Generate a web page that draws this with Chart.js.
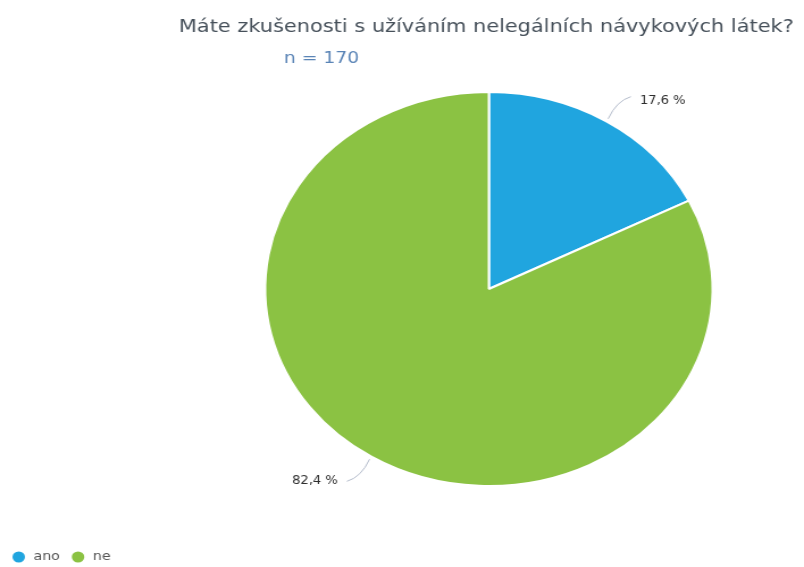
<!DOCTYPE html>
<html>
<head>
<meta charset="utf-8">
<script src="https://cdn.jsdelivr.net/npm/chart.js@4/dist/chart.umd.min.js"></script>
<style>
  html, body { margin: 0; padding: 0; background: #fff; }
  #graf { display: block; }
</style>
</head>
<body>
<!-- canvas is drawn narrower and stretched to the full width -->
<canvas id="graf" width="708" height="567" style="width:804px;height:567px"></canvas>
<script>
const nadpis = "Máte zkušenosti s užíváním nelegálních návykových látek?";
const pocet = "n = 170";
const kategorie = ["ano", "ne"];
const hodnoty = [17.6, 82.4];
const barvy = ["#20a5df", "#8bc243"];

const canvas_graf = document.getElementById("graf");

function formatProcenta(v) {
  return v.toFixed(1).replace(".", ",") + " %";
}

/* popisky, vodici cary, nadpis a legenda */
const popiskyPlugin = {
  id: "popisky",
  afterDraw(chart) {
    const ctx = chart.ctx;
    ctx.save();

    // nadpis a n
    ctx.textBaseline = "alphabetic";
    ctx.textAlign = "left";
    ctx.font = "18.4px 'DejaVu Sans', Verdana, sans-serif";
    ctx.fillStyle = "#46505a";
    ctx.fillText(nadpis, 157.5, 32);
    ctx.font = "16.5px 'DejaVu Sans', Verdana, sans-serif";
    ctx.fillStyle = "#5a84b6";
    ctx.fillText(pocet, 250, 63);

    // vysece
    const meta = chart.getDatasetMeta(0);
    meta.data.forEach((arc, i) => {
      const mid = (arc.startAngle + arc.endAngle) / 2;
      const dx = Math.cos(mid), dy = Math.sin(mid);
      const r = arc.outerRadius + 3;
      const sx = arc.x + dx * r, sy = arc.y + dy * r;
      const smer = dx >= 0 ? 1 : -1;
      const ex = sx + smer * 20, ey = sy + dy * 26;
      ctx.strokeStyle = "#b4bccb";
      ctx.lineWidth = 1;
      ctx.beginPath();
      ctx.moveTo(sx, sy);
      ctx.quadraticCurveTo(sx + dx * 14, sy + dy * 14 + (dy > 0 ? 6 : -6), ex, ey);
      ctx.stroke();
      ctx.font = "11.5px 'DejaVu Sans', Verdana, sans-serif";
      ctx.fillStyle = "#2e2e2e";
      ctx.textBaseline = "middle";
      ctx.textAlign = smer > 0 ? "left" : "right";
      ctx.fillText(formatProcenta(hodnoty[i]), ex + smer * 8, ey + (dy < 0 ? 4 : 0));
    });

    // legenda
    ctx.font = "12.5px 'DejaVu Sans', Verdana, sans-serif";
    ctx.textAlign = "left";
    ctx.textBaseline = "middle";
    let x = 16.5;
    kategorie.forEach((k, i) => {
      ctx.fillStyle = barvy[i];
      ctx.beginPath();
      ctx.arc(x, 557, 5.5, 0, Math.PI * 2);
      ctx.fill();
      ctx.fillStyle = "#555";
      ctx.fillText(k, x + 13, 557);
      x += 13 + ctx.measureText(k).width + 16;
    });
    ctx.restore();
  }
};

new Chart(canvas_graf, {
  type: "pie",
  data: {
    labels: kategorie,
    datasets: [
      {
        data: hodnoty,
        backgroundColor: barvy,
        borderColor: "#fff",
        borderWidth: 2,
        hoverOffset: 0
      }
    ]
  },
  options: {
    responsive: false,
    animation: false,
    layout: { padding: { top: 91, bottom: 80, left: 153, right: 0 } },
    plugins: {
      legend: { display: false },
      tooltip: { enabled: false },
      title: { display: false }
    }
  },
  plugins: [popiskyPlugin]
});
</script>
</body>
</html>
